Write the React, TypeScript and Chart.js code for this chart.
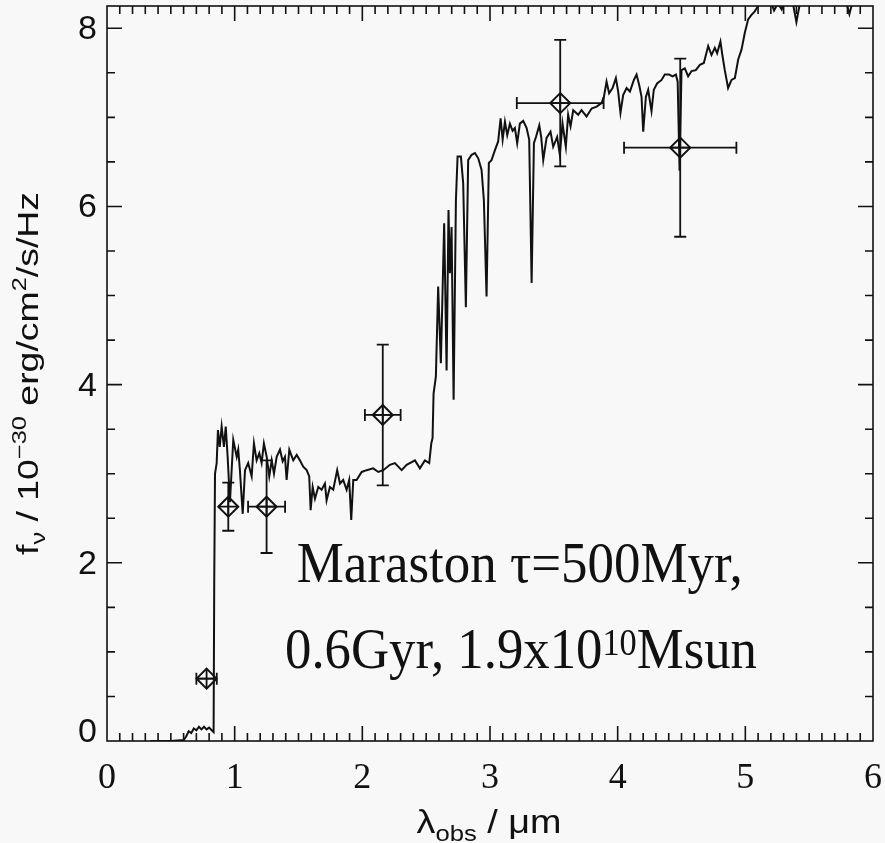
import { useEffect, useRef } from "react";
import { Chart, registerables } from "chart.js";
Chart.register(...registerables);

// Model spectrum (λ in µm, fν in 1e-30 erg/cm²/s/Hz)
const lambda = [
  0.34, 0.5, 0.6, 0.62, 0.64, 0.66, 0.68, 0.7, 0.72, 0.74, 0.76, 0.78, 0.8, 0.82, 0.835, 0.84, 0.846, 0.859, 0.869, 0.883,
  0.898, 0.916, 0.93, 0.945, 0.963, 0.989, 1.016, 1.028, 1.041, 1.063, 1.081, 1.106, 1.133, 1.151, 1.172, 1.193, 1.211,
  1.229, 1.251, 1.271, 1.29, 1.308, 1.329, 1.355, 1.376, 1.394, 1.407, 1.428, 1.459, 1.486, 1.511, 1.537, 1.564, 1.584,
  1.595, 1.611, 1.629, 1.655, 1.681, 1.707, 1.72, 1.746, 1.772, 1.803, 1.825, 1.85, 1.877, 1.897, 1.913, 1.929, 1.955,
  1.995, 2.034, 2.085, 2.125, 2.164, 2.216, 2.255, 2.308, 2.347, 2.412, 2.451, 2.49, 2.524, 2.54, 2.55, 2.558, 2.576,
  2.594, 2.615, 2.641, 2.66, 2.675, 2.686, 2.699, 2.715, 2.733, 2.746, 2.772, 2.79, 2.811, 2.829, 2.856, 2.882, 2.908,
  2.934, 2.952, 2.973, 2.991, 3.012, 3.038, 3.064, 3.083, 3.099, 3.117, 3.135, 3.156, 3.177, 3.195, 3.213, 3.234, 3.26,
  3.287, 3.307, 3.326, 3.344, 3.36, 3.386, 3.401, 3.417, 3.443, 3.474, 3.495, 3.526, 3.547, 3.568, 3.594, 3.612, 3.631,
  3.652, 3.691, 3.717, 3.756, 3.796, 3.835, 3.874, 3.892, 3.913, 3.933, 3.96, 3.986, 4.004, 4.022, 4.043, 4.07, 4.096,
  4.127, 4.148, 4.169, 4.187, 4.2, 4.221, 4.239, 4.265, 4.283, 4.309, 4.344, 4.369, 4.403, 4.43, 4.456, 4.47, 4.485, 4.5,
  4.526, 4.552, 4.579, 4.612, 4.644, 4.675, 4.709, 4.735, 4.761, 4.779, 4.805, 4.82, 4.839, 4.865, 4.892, 4.918, 4.944,
  4.97, 4.996, 5.022, 5.048, 5.074, 5.1, 5.15, 5.2, 5.225, 5.255, 5.285, 5.32, 5.37, 5.4, 5.43, 5.5, 5.6, 5.7, 5.78,
  5.815, 5.85, 5.95, 6.0,
];
const flux = [
  0.0, 0.0, 0.01, 0.05, 0.11, 0.09, 0.14, 0.12, 0.16, 0.13, 0.16, 0.13, 0.15, 0.12, 0.1, 1.8, 3.0, 3.12, 3.49, 3.3,
  3.53, 3.3, 3.53, 3.19, 2.68, 3.38, 3.19, 3.27, 3.04, 2.55, 3.04, 3.12, 2.97, 3.34, 3.15, 3.23, 3.12,
  3.34, 3.19, 2.97, 3.15, 3.0, 3.19, 3.27, 3.14, 3.19, 2.93, 3.27, 3.15, 3.21, 3.15, 3.08, 3.04, 2.97,
  2.59, 2.85, 2.72, 2.85, 2.82, 2.89, 2.7, 2.85, 2.82, 3.04, 2.89, 2.93, 2.82, 2.93, 2.48, 2.93, 2.93,
  3.02, 3.04, 3.06, 3.02, 3.04, 3.1, 3.12, 3.04, 3.1, 3.15, 3.06, 3.15, 3.12, 3.34, 3.4, 3.9, 4.09,
  5.1, 4.24, 5.81, 4.16, 5.96, 5.25, 5.77, 3.83, 6.07, 6.56, 6.56, 6.26, 4.87, 6.52, 6.58, 6.6, 6.54,
  6.41, 6.07, 4.99, 6.49, 6.52, 6.63, 6.73, 6.99, 6.75, 6.95, 6.8, 6.93, 6.85, 6.88, 6.71, 6.93, 6.96,
  6.88, 6.75, 5.14, 6.71, 6.78, 6.91, 6.78, 6.52, 6.77, 6.84, 6.67, 6.78, 6.58, 6.93, 6.67, 7.03, 6.9,
  7.08, 7.03, 7.08, 7.01, 7.1, 7.12, 7.16, 7.23, 7.4, 7.27, 7.33, 7.44, 7.29, 7.05, 7.25, 7.33, 7.29,
  7.42, 7.48, 7.36, 7.23, 6.84, 7.23, 7.31, 7.07, 7.31, 7.38, 7.42, 7.48, 7.48, 7.46, 7.48, 7.4, 6.4, 7.53,
  7.55, 7.46, 7.52, 7.53, 7.59, 7.61, 7.8, 7.7, 7.78, 7.72, 7.85, 7.7, 7.53, 7.33, 7.42, 7.44, 7.65,
  7.76, 7.95, 8.1, 8.15, 8.19, 8.25, 8.35, 8.3, 8.2, 8.28, 8.21, 8.35, 8.3, 8.07, 8.3, 8.4, 8.45, 8.4, 8.35,
  8.16, 8.35, 8.45, 8.5,
];

// Photometric points with errors
const ptLambda = [0.78, 0.95, 1.25, 2.16, 3.55, 4.49];
const ptFlux = [0.7, 2.63, 2.63, 3.66, 7.16, 6.66];
const ptLambdaErr = [0.08, 0, 0.145, 0.14, 0.34, 0.44];
const ptFluxErr = [0, 0.27, 0.52, 0.79, 0.71, 1.0];

const xTickValues = [0, 1, 2, 3, 4, 5, 6];
const yTickValues = [0, 2, 4, 6, 8];
const xMinorStep = 0.1;
const yMinorStep = 0.5;

const INK = "#111";
const BG = "#f8f8f8";
const SANS = "'Liberation Sans', Arial, sans-serif";
const SERIF = "'Liberation Serif', 'Times New Roman', serif";

type Seg = { t: string; mode?: "sup" | "sub" };

function drawRich(
  ctx: CanvasRenderingContext2D,
  segs: Seg[],
  family: string,
  size: number,
  x: number,
  y: number,
  width: number,
  align: "left" | "center",
  rotate: boolean,
  smallScale: number,
  supShift: number,
  subShift: number
) {
  ctx.save();
  ctx.textBaseline = "alphabetic";
  ctx.textAlign = "left";
  const fontFor = (s: Seg) => `${s.mode ? size * smallScale : size}px ${family}`;
  let total = 0;
  const widths = segs.map((s) => {
    ctx.font = fontFor(s);
    const w = ctx.measureText(s.t).width;
    total += w;
    return w;
  });
  const sx = width / total;
  ctx.translate(x, y);
  if (rotate) ctx.rotate(-Math.PI / 2);
  ctx.scale(sx, 1);
  let cx = align === "center" ? -total / 2 : 0;
  ctx.fillStyle = INK;
  segs.forEach((s, i) => {
    ctx.font = fontFor(s);
    const dy = s.mode === "sup" ? -supShift : s.mode === "sub" ? subShift : 0;
    ctx.fillText(s.t, cx, dy);
    cx += widths[i];
  });
  ctx.restore();
}

const bgPlugin = {
  id: "bg",
  beforeDraw(chart: any) {
    const ctx = chart.ctx;
    ctx.save();
    ctx.fillStyle = BG;
    ctx.fillRect(0, 0, chart.width, chart.height);
    ctx.restore();
  },
};

const framePlugin = {
  id: "frame",
  afterDatasetsDraw(chart: any) {
    const ctx: CanvasRenderingContext2D = chart.ctx;
    const { left, right, top, bottom } = chart.chartArea;
    const xs = chart.scales.x;
    const ys = chart.scales.y;
    ctx.save();
    // error bars
    ctx.strokeStyle = INK;
    ctx.lineWidth = 1.8;
    ptLambda.forEach((lx, i) => {
      const px = xs.getPixelForValue(lx);
      const py = ys.getPixelForValue(ptFlux[i]);
      ctx.beginPath();
      if (ptLambdaErr[i] > 0) {
        const x1 = xs.getPixelForValue(lx - ptLambdaErr[i]);
        const x2 = xs.getPixelForValue(lx + ptLambdaErr[i]);
        ctx.moveTo(x1, py);
        ctx.lineTo(x2, py);
        ctx.moveTo(x1, py - 6);
        ctx.lineTo(x1, py + 6);
        ctx.moveTo(x2, py - 6);
        ctx.lineTo(x2, py + 6);
      }
      if (ptFluxErr[i] > 0) {
        const y1 = ys.getPixelForValue(ptFlux[i] - ptFluxErr[i]);
        const y2 = ys.getPixelForValue(ptFlux[i] + ptFluxErr[i]);
        ctx.moveTo(px, y1);
        ctx.lineTo(px, y2);
        ctx.moveTo(px - 6, y1);
        ctx.lineTo(px + 6, y1);
        ctx.moveTo(px - 6, y2);
        ctx.lineTo(px + 6, y2);
      }
      ctx.stroke();
    });
    // frame
    ctx.lineWidth = 1.6;
    ctx.strokeRect(left, top, right - left, bottom - top);
    // ticks
    ctx.beginPath();
    const nx = Math.round((xs.max - xs.min) / xMinorStep);
    for (let i = 1; i < nx; i++) {
      const v = xs.min + i * xMinorStep;
      const major = xTickValues.some((t) => Math.abs(t - v) < 1e-6);
      const len = major ? 15 : 8;
      const px = xs.getPixelForValue(v);
      ctx.moveTo(px, bottom);
      ctx.lineTo(px, bottom - len);
      ctx.moveTo(px, top);
      ctx.lineTo(px, top + len);
    }
    const ny = Math.floor((ys.max - ys.min) / yMinorStep + 1e-6);
    for (let j = 1; j <= ny; j++) {
      const v = ys.min + j * yMinorStep;
      const major = yTickValues.some((t) => Math.abs(t - v) < 1e-6);
      const len = major ? 15 : 8;
      const py = ys.getPixelForValue(v);
      ctx.moveTo(left, py);
      ctx.lineTo(left + len, py);
      ctx.moveTo(right, py);
      ctx.lineTo(right - len, py);
    }
    ctx.stroke();
    ctx.restore();
  },
  afterDraw(chart: any) {
    const ctx: CanvasRenderingContext2D = chart.ctx;
    const { left, right, top, bottom } = chart.chartArea;
    const ys = chart.scales.y;
    const cxm = (left + right) / 2;
    const cym = (top + bottom) / 2;
    // y tick labels (bottom one sits on the axis, as in the original)
    ctx.save();
    ctx.fillStyle = INK;
    ctx.font = `34px ${SANS}`;
    ctx.textAlign = "right";
    yTickValues.forEach((v) => {
      const py = ys.getPixelForValue(v);
      if (v === ys.min) {
        ctx.textBaseline = "alphabetic";
        ctx.fillText(String(v), left - 10, bottom + 1);
      } else {
        ctx.textBaseline = "middle";
        ctx.fillText(String(v), left - 10, py + 1.5);
      }
    });
    ctx.restore();
    // y title
    drawRich(
      ctx,
      [
        { t: "f" },
        { t: "ν", mode: "sub" },
        { t: " / 10" },
        { t: "−30", mode: "sup" },
        { t: " erg/cm" },
        { t: "2", mode: "sup" },
        { t: "/s/Hz" },
      ],
      SANS, 29, 38, cym, 363, "center", true, 0.68, 12, 7
    );
    // x title
    drawRich(ctx, [{ t: "λ" }, { t: "obs", mode: "sub" }, { t: " / μm" }], SANS, 33, cxm - 1, 833, 145, "center", false, 0.68, 12, 8);
    // annotation
    drawRich(ctx, [{ t: "Maraston τ=500Myr," }], SERIF, 57, 296.7, 581.7, 446, "left", false, 0.65, 13, 0);
    drawRich(ctx, [{ t: "0.6Gyr, 1.9x10" }, { t: "10", mode: "sup" }, { t: "Msun" }], SERIF, 57, 285, 668, 472, "left", false, 0.65, 13, 0);
  },
};

export default function App() {
  const ref = useRef<HTMLCanvasElement>(null);
  useEffect(() => {
    document.body.style.background = BG;
    const canvas = ref.current!;
    const spectrum = lambda.map((l, i) => ({ x: l, y: flux[i] }));
    const pts = ptLambda.map((l, i) => ({ x: l, y: ptFlux[i] }));
    const chart = new Chart(canvas, {
      type: "scatter",
      data: {
        datasets: [
          {
            data: spectrum,
            showLine: true,
            borderColor: INK,
            borderWidth: 2,
            pointRadius: 0,
            tension: 0,
          } as any,
          {
            data: pts,
            pointStyle: "rectRot",
            pointRadius: 10,
            borderColor: INK,
            borderWidth: 2,
            backgroundColor: "rgba(0,0,0,0)",
            showLine: false,
          } as any,
          {
            data: pts,
            pointStyle: "cross",
            pointRadius: 10,
            borderColor: INK,
            borderWidth: 1.8,
            showLine: false,
          } as any,
        ],
      },
      options: {
        animation: false,
        responsive: false,
        devicePixelRatio: 1,
        events: [],
        layout: { autoPadding: false, padding: { top: 6, right: 12, left: 0, bottom: 0 } },
        plugins: { legend: { display: false }, tooltip: { enabled: false }, title: { display: false } },
        scales: {
          x: {
            type: "linear",
            min: 0,
            max: 6,
            grid: { display: false, drawTicks: false, tickLength: 0 },
            border: { display: false },
            afterBuildTicks: (s: any) => {
              s.ticks = xTickValues.map((v) => ({ value: v }));
            },
            afterFit: (s: any) => {
              s.height = 102;
              s.paddingLeft = 0;
              s.paddingRight = 0;
              s.paddingTop = 0;
              s.paddingBottom = 0;
            },
            ticks: {
              autoSkip: false,
              maxRotation: 0,
              padding: 16,
              color: INK,
              font: { family: SERIF, size: 36 },
              callback: (v: any) => String(v),
            },
          },
          y: {
            type: "linear",
            min: 0,
            max: 8.25,
            grid: { display: false, drawTicks: false, tickLength: 0 },
            border: { display: false },
            afterBuildTicks: (s: any) => {
              s.ticks = yTickValues.map((v) => ({ value: v }));
            },
            afterFit: (s: any) => {
              s.width = 107;
              s.paddingLeft = 0;
              s.paddingRight = 0;
              s.paddingTop = 0;
              s.paddingBottom = 0;
            },
            ticks: { display: false },
          },
        },
      },
      plugins: [bgPlugin, framePlugin],
    });
    return () => chart.destroy();
  }, []);
  return (
    <div style={{ position: "fixed", left: 0, top: 0, width: 885, height: 843, background: BG }}>
      <canvas ref={ref} width={885} height={843} style={{ display: "block", width: 885, height: 843 }} />
    </div>
  );
}
